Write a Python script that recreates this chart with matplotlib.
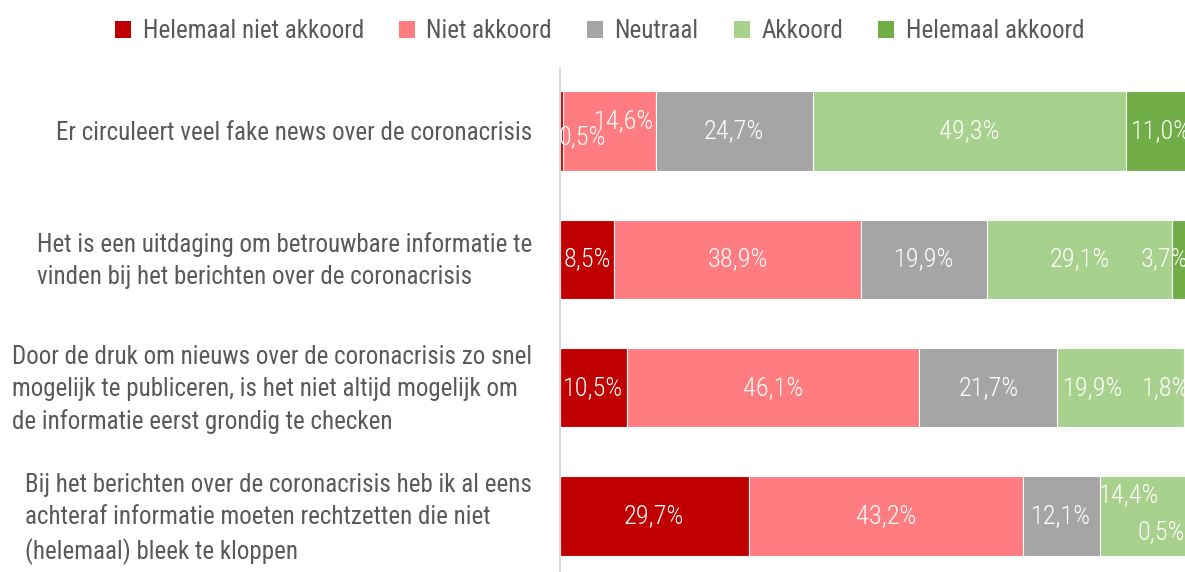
import matplotlib as mpl

mpl.use("Agg")

import matplotlib.pyplot as plt
from matplotlib.patches import Patch
from matplotlib.transforms import ScaledTranslation

plt.rcParams["font.family"] = ["Roboto Condensed", "DejaVu Sans"]

# Survey statements, top to bottom
statements = [
    "Er circuleert veel fake news over de coronacrisis",
    "Het is een uitdaging om betrouwbare informatie te\nvinden bij het berichten over de coronacrisis",
    "Door de druk om nieuws over de coronacrisis zo snel\nmogelijk te publiceren, is het niet altijd mogelijk om\nde informatie eerst grondig te checken",
    "Bij het berichten over de coronacrisis heb ik al eens\nachteraf informatie moeten rechtzetten die niet\n(helemaal) bleek te kloppen",
]

series_names = ["Helemaal niet akkoord", "Niet akkoord", "Neutraal", "Akkoord", "Helemaal akkoord"]
helemaal_niet = [0.5, 8.5, 10.5, 29.7]
niet = [14.6, 38.9, 46.1, 43.2]
neutraal = [24.7, 19.9, 21.7, 12.1]
akkoord = [49.3, 29.1, 19.9, 14.4]
helemaal = [11.0, 3.7, 1.8, 0.5]
series_values = [helemaal_niet, niet, neutraal, akkoord, helemaal]
colors = ["#C00000", "#FF7C80", "#A5A5A5", "#A9D18E", "#70AD47"]

# Hand-placed nudges (pixels) for labels of narrow segments: (series, row) -> (dx, dy)
label_nudges = {
    (0, 0): (21, -6),
    (1, 0): (14, 10),
    (4, 1): (-19, 0),
    (3, 2): (-27, 0),
    (4, 2): (-24, 0),
    (3, 3): (-16, 21),
    (4, 3): (-32, -16),
}

text_grey = "#595959"

fig = plt.figure(figsize=(11.85, 5.72), dpi=100)
ax = fig.add_axes([560 / 1185, -7 / 572, 635 / 1185, 511 / 572])

rows = list(range(len(statements)))
left = [0.0] * len(statements)
for si, (name, vals, col) in enumerate(zip(series_names, series_values, colors)):
    bars = ax.barh(rows, vals, left=left, height=0.62, color=col,
                   edgecolor="white", linewidth=0.8, label=name)
    for ri, (bar, v) in enumerate(zip(bars, vals)):
        cx = bar.get_x() + bar.get_width() / 2
        cy = bar.get_y() + bar.get_height() / 2
        dx, dy = label_nudges.get((si, ri), (0, 0))
        ax.annotate(f"{v:.1f}%".replace(".", ","), (cx, cy),
                    xytext=(dx * 0.72, dy * 0.72), textcoords="offset points",
                    ha="center", va="center", color="white", fontsize=19,
                    fontweight="light", annotation_clip=False)
    left = [l + v for l, v in zip(left, vals)]

ax.set_xlim(0, 100)
ax.set_ylim(3.49, -0.49)
ax.set_xticks([])
ax.set_yticks(rows)
ax.set_yticklabels(statements, multialignment="left", color=text_grey,
                   fontsize=18, linespacing=1.43)
ax.tick_params(axis="y", length=0, pad=20)
# multi-line labels sit a little high in the reference
for lab in ax.get_yticklabels():
    if "\n" in lab.get_text():
        lab.set_transform(lab.get_transform() + ScaledTranslation(0, 5 / 100, fig.dpi_scale_trans))
for side in ("top", "right", "bottom"):
    ax.spines[side].set_visible(False)
ax.spines["left"].set_color("#D9D9D9")
ax.spines["left"].set_linewidth(1.5)

handles = [Patch(facecolor=c, edgecolor="none") for c in colors]
fig.legend(handles, series_names, loc="center", bbox_to_anchor=(0.506, 1 - 31 / 572),
           ncol=5, frameon=False, fontsize=18, labelcolor=text_grey,
           handlelength=0.65, handleheight=0.65, handletextpad=0.45,
           columnspacing=1.4)

fig.savefig("out.png", dpi=100)
